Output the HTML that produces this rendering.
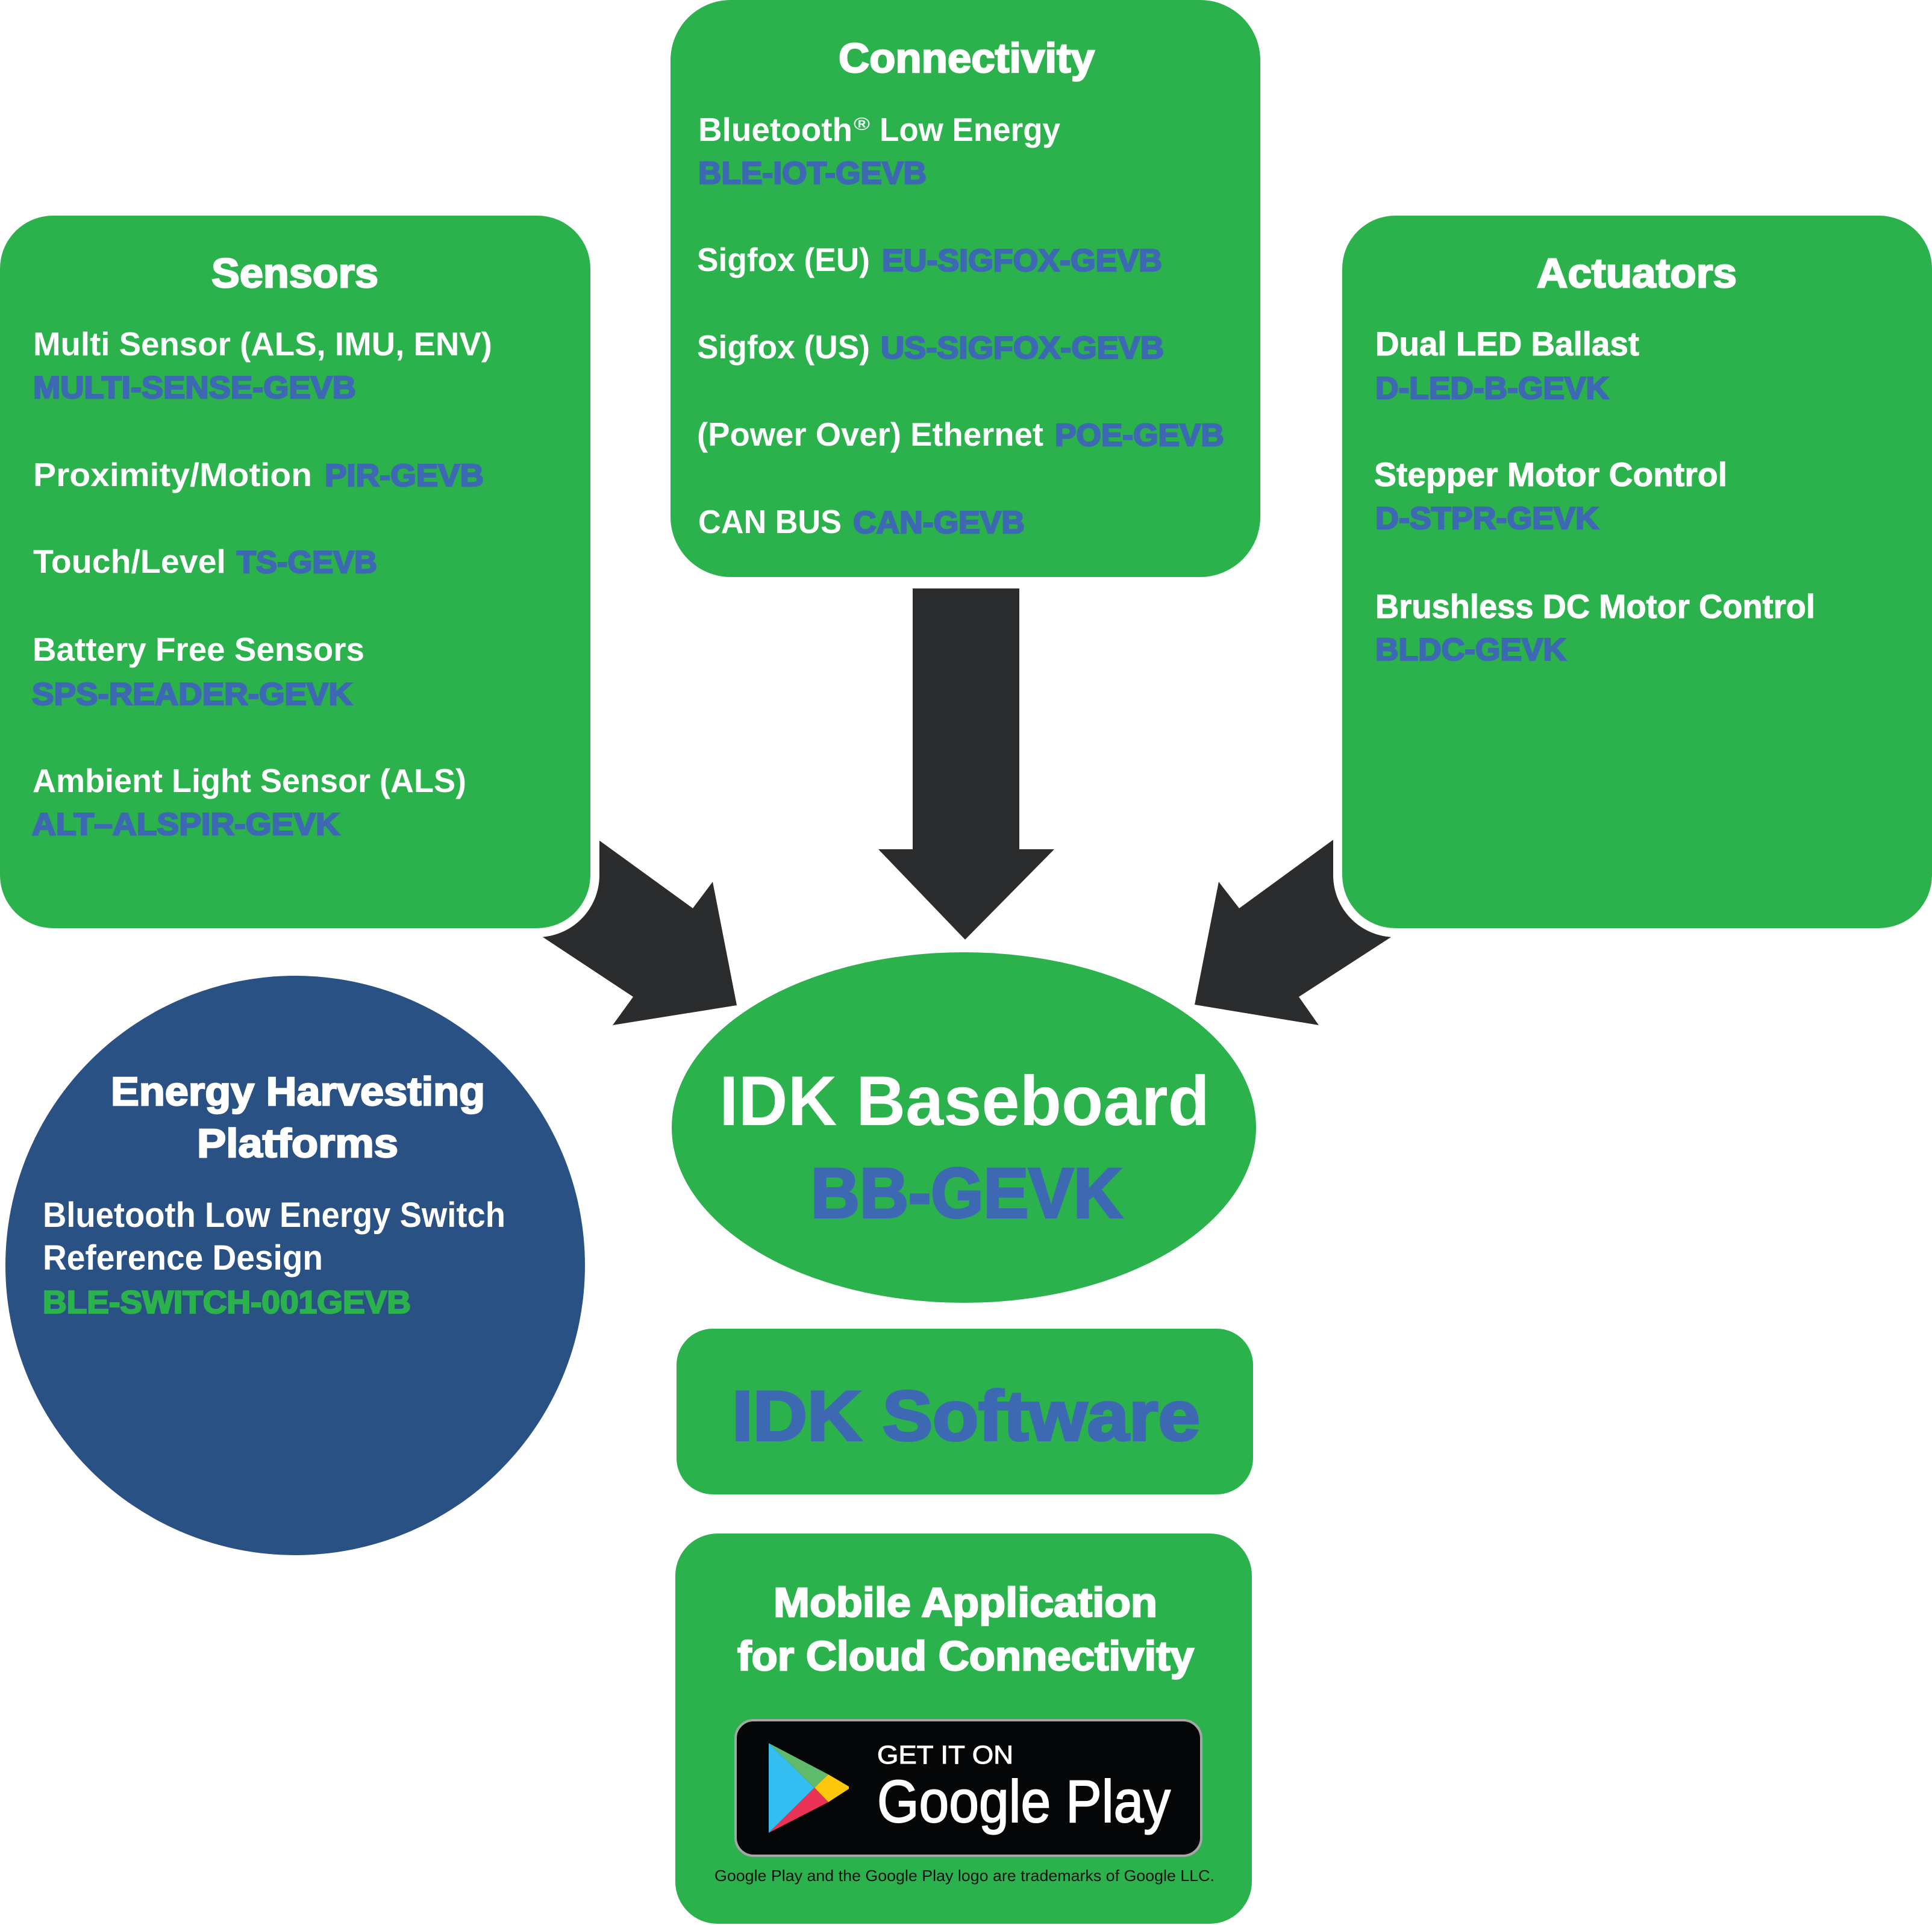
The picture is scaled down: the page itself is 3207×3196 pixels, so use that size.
<!DOCTYPE html>
<html>
<head>
<meta charset="utf-8">
<style>
html,body{margin:0;padding:0;background:#fff;}
svg{display:block;}
text{font-family:"Liberation Sans",Arial,sans-serif;font-weight:bold;}
.t{fill:#fff;stroke:#fff;stroke-width:2.5;font-size:69px;}
.b{fill:#fff;font-size:55px;}
.a{fill:#fff;stroke:#fff;stroke-width:1;font-size:56px;}
.p{fill:#3d69b3;stroke:#3d69b3;stroke-width:2.5;font-size:52px;}
</style>
</head>
<body>
<svg width="3207" height="3196" viewBox="0 0 3207 3196" xmlns="http://www.w3.org/2000/svg">
<!-- arrows -->
<g fill="#2b2c2e">
<polygon points="1515,977 1692,977 1692,1410 1750,1410 1602,1560 1458,1410 1515,1410"/>
<polygon points="1223,1669 1183,1464 1150,1508 946,1360 856,1526 1051,1655 1017,1702"/>
<polygon points="1983,1668 2023,1464 2057,1508 2260,1360 2352,1528 2156,1655 2189,1702"/>
</g>
<!-- halos -->
<rect x="-15" y="343" width="1010" height="1213" rx="103" fill="#fff"/>
<rect x="2213" y="343" width="1010" height="1213" rx="103" fill="#fff"/>
<!-- boxes -->
<rect x="0" y="358" width="980" height="1183" rx="88" fill="#2bb24c"/>
<rect x="2228" y="358" width="979" height="1183" rx="88" fill="#2bb24c"/>
<rect x="1113" y="0" width="979" height="958" rx="100" fill="#2bb24c"/>
<ellipse cx="1600" cy="1872" rx="485" ry="291" fill="#2bb24c"/>
<circle cx="490" cy="2101" r="481" fill="#2a5183"/>
<rect x="1123" y="2206" width="957" height="275" rx="60" fill="#2bb24c"/>
<rect x="1121" y="2546" width="957" height="648" rx="70" fill="#2bb24c"/>

<!-- Sensors -->
<text class="t" x="351" y="477" textLength="277" lengthAdjust="spacingAndGlyphs">Sensors</text>
<text class="b" x="55" y="590" textLength="762" lengthAdjust="spacingAndGlyphs">Multi Sensor (ALS, IMU, ENV)</text>
<text class="p" x="55" y="661" textLength="536" lengthAdjust="spacingAndGlyphs">MULTI-SENSE-GEVB</text>
<text class="b" x="55" y="807" textLength="463" lengthAdjust="spacingAndGlyphs">Proximity/Motion</text>
<text class="p" x="539" y="807" textLength="264" lengthAdjust="spacingAndGlyphs">PIR-GEVB</text>
<text class="b" x="55" y="951" textLength="320" lengthAdjust="spacingAndGlyphs">Touch/Level</text>
<text class="p" x="393" y="951" textLength="233" lengthAdjust="spacingAndGlyphs">TS-GEVB</text>
<text class="b" x="54" y="1097" textLength="551" lengthAdjust="spacingAndGlyphs">Battery Free Sensors</text>
<text class="p" x="53" y="1170" textLength="532" lengthAdjust="spacingAndGlyphs">SPS-READER-GEVK</text>
<text class="b" x="54" y="1315" textLength="720" lengthAdjust="spacingAndGlyphs">Ambient Light Sensor (ALS)</text>
<text class="p" x="53" y="1386" textLength="511" lengthAdjust="spacingAndGlyphs">ALT–ALSPIR-GEVK</text>

<!-- Connectivity -->
<text class="t" x="1392" y="120" textLength="425" lengthAdjust="spacingAndGlyphs">Connectivity</text>
<text class="b" x="1159" y="234" textLength="256" lengthAdjust="spacingAndGlyphs">Bluetooth</text>
<text x="1417" y="216" fill="#fff" font-size="30" textLength="27" lengthAdjust="spacingAndGlyphs">®</text>
<text class="b" x="1460" y="234" textLength="300" lengthAdjust="spacingAndGlyphs">Low Energy</text>
<text class="p" x="1159" y="305" textLength="379" lengthAdjust="spacingAndGlyphs">BLE-IOT-GEVB</text>
<text class="b" x="1157" y="450" textLength="287" lengthAdjust="spacingAndGlyphs">Sigfox (EU)</text>
<text class="p" x="1464" y="450" textLength="465" lengthAdjust="spacingAndGlyphs">EU-SIGFOX-GEVB</text>
<text class="b" x="1157" y="595" textLength="287" lengthAdjust="spacingAndGlyphs">Sigfox (US)</text>
<text class="p" x="1462" y="595" textLength="470" lengthAdjust="spacingAndGlyphs">US-SIGFOX-GEVB</text>
<text class="b" x="1157" y="740" textLength="575" lengthAdjust="spacingAndGlyphs">(Power Over) Ethernet</text>
<text class="p" x="1751" y="740" textLength="281" lengthAdjust="spacingAndGlyphs">POE-GEVB</text>
<text class="b" x="1159" y="885" textLength="238" lengthAdjust="spacingAndGlyphs">CAN BUS</text>
<text class="p" x="1416" y="885" textLength="285" lengthAdjust="spacingAndGlyphs">CAN-GEVB</text>

<!-- Actuators -->
<text class="t" x="2551" y="477" textLength="332" lengthAdjust="spacingAndGlyphs">Actuators</text>
<text class="a" x="2283" y="590" textLength="438" lengthAdjust="spacingAndGlyphs">Dual LED Ballast</text>
<text class="p" x="2283" y="662" textLength="388" lengthAdjust="spacingAndGlyphs">D-LED-B-GEVK</text>
<text class="a" x="2281" y="807" textLength="586" lengthAdjust="spacingAndGlyphs">Stepper Motor Control</text>
<text class="p" x="2283" y="878" textLength="371" lengthAdjust="spacingAndGlyphs">D-STPR-GEVK</text>
<text class="a" x="2283" y="1026" textLength="730" lengthAdjust="spacingAndGlyphs">Brushless DC Motor Control</text>
<text class="p" x="2283" y="1096" textLength="317" lengthAdjust="spacingAndGlyphs">BLDC-GEVK</text>

<!-- Baseboard -->
<text x="1194" y="1868" fill="#fff" font-size="117" textLength="814" lengthAdjust="spacingAndGlyphs">IDK Baseboard</text>
<text x="1346" y="2021" fill="#3d69b3" stroke="#3d69b3" stroke-width="4" font-size="117" textLength="517" lengthAdjust="spacingAndGlyphs">BB-GEVK</text>

<!-- Energy Harvesting -->
<text class="t" x="184" y="1835" font-size="67" style="font-size:67px" textLength="621" lengthAdjust="spacingAndGlyphs">Energy Harvesting</text>
<text class="t" x="327" y="1921" style="font-size:67px" textLength="334" lengthAdjust="spacingAndGlyphs">Platforms</text>
<text class="b" x="71" y="2037" style="font-size:58px" textLength="768" lengthAdjust="spacingAndGlyphs">Bluetooth Low Energy Switch</text>
<text class="b" x="71" y="2108" style="font-size:58px" textLength="465" lengthAdjust="spacingAndGlyphs">Reference Design</text>
<text x="71" y="2180" fill="#2bb24c" stroke="#2bb24c" stroke-width="2.5" font-size="53" textLength="611" lengthAdjust="spacingAndGlyphs">BLE-SWITCH-001GEVB</text>

<!-- IDK Software -->
<text x="1215" y="2391" fill="#3d69b3" stroke="#3d69b3" stroke-width="4" font-size="117" textLength="777" lengthAdjust="spacingAndGlyphs">IDK Software</text>

<!-- Mobile -->
<text class="t" x="1284" y="2684" textLength="637" lengthAdjust="spacingAndGlyphs">Mobile Application</text>
<text class="t" x="1224" y="2773" textLength="758" lengthAdjust="spacingAndGlyphs">for Cloud Connectivity</text>

<!-- Badge -->
<rect x="1221" y="2856" width="773" height="225" rx="30" fill="#040607" stroke="#a6a6a6" stroke-width="4"/>
<polygon points="1276,2894 1352,2968 1276,3043" fill="#34bdf0"/>
<polygon points="1276,2894 1375,2946 1352,2968" fill="#5fbb6b"/>
<polygon points="1375,2946 1409,2966 1409,2970 1375,2992 1352,2968" fill="#fdc70c"/>
<polygon points="1352,2968 1375,2992 1276,3043" fill="#ea3357"/>
<text x="1456" y="2928" fill="#fff" font-size="43" style="font-weight:normal" stroke="#fff" stroke-width="1" textLength="226" lengthAdjust="spacingAndGlyphs">GET IT ON</text>
<text x="1456" y="3025" fill="#fff" font-size="99" style="font-weight:normal" stroke="#fff" stroke-width="2" textLength="487" lengthAdjust="spacingAndGlyphs">Google Play</text>
<text x="1186" y="3123" fill="#111" font-size="26" style="font-weight:normal" textLength="830" lengthAdjust="spacingAndGlyphs">Google Play and the Google Play logo are trademarks of Google LLC.</text>
</svg>
</body>
</html>
